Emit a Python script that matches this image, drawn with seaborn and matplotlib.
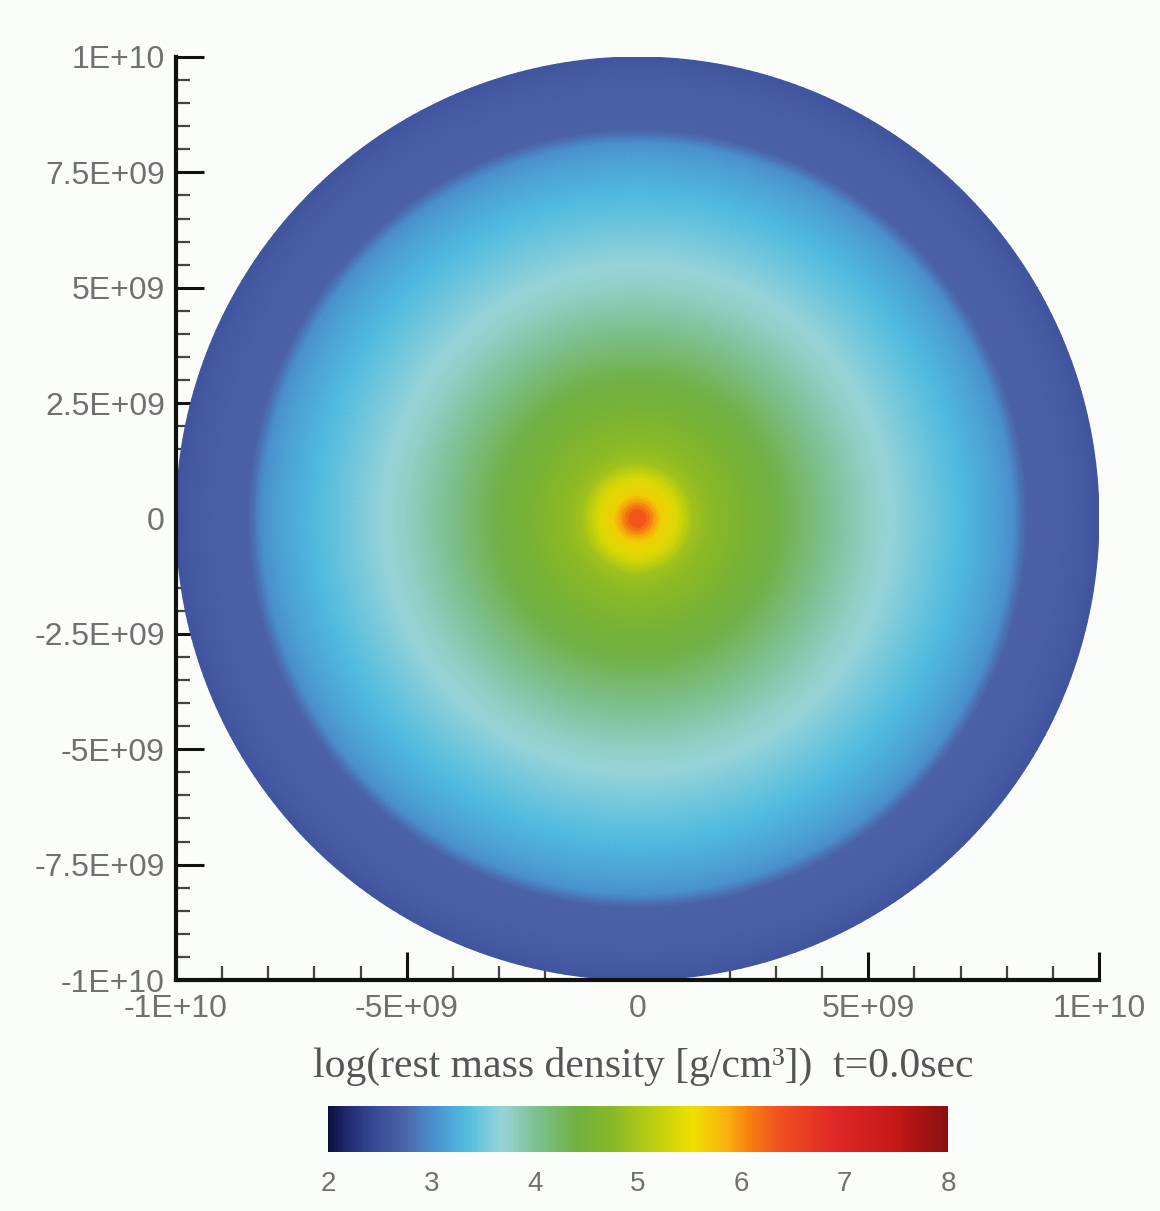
import numpy as np
import matplotlib
matplotlib.use("Agg")
import matplotlib.pyplot as plt
import seaborn as sns
from matplotlib.colors import LinearSegmentedColormap
from matplotlib.ticker import FixedLocator, MultipleLocator

# ---- data ----
# radial profile of log10(rest mass density); radius in units of the axis (cm)
radius = [0.0, 0.02, 0.035, 0.05, 0.08, 0.10, 0.12, 0.15, 0.20, 0.25, 0.30, 0.35,
          0.40, 0.45, 0.50, 0.55, 0.60, 0.65, 0.70, 0.74, 0.78, 0.815, 0.83,
          0.845, 0.92, 0.97, 1.0]
log_rho = [6.45, 6.25, 5.95, 5.65, 5.4, 5.2, 4.95, 4.8, 4.65, 4.5, 4.38, 4.22,
           4.05, 3.9, 3.77, 3.67, 3.57, 3.45, 3.33, 3.24, 3.14, 3.02, 2.85,
           2.72, 2.69, 2.64, 2.58]
r_scale = 1e10

x_ticks = [-1e10, -5e9, 0, 5e9, 1e10]
x_labels = ["-1E+10", "-5E+09", "0", "5E+09", "1E+10"]
y_ticks = [-1e10, -7.5e9, -5e9, -2.5e9, 0, 2.5e9, 5e9, 7.5e9, 1e10]
y_labels = ["-1E+10", "-7.5E+09", "-5E+09", "-2.5E+09", "0",
            "2.5E+09", "5E+09", "7.5E+09", "1E+10"]
cbar_ticks = [2, 3, 4, 5, 6, 7, 8]
title_text = "log(rest mass density [g/cm\u00b3])  t=0.0sec"

# colormap stops
cmap_pos = [2.0, 2.17, 2.47, 2.73, 2.99, 3.33, 3.68, 4.02, 4.4, 4.75, 5.18,
            5.53, 5.87, 6.08, 6.38, 6.9, 7.46, 8.0]
cmap_cols = ["#0a1040", "#202a70", "#3a4c98", "#4c62a8", "#4a8ccc", "#50bce0",
             "#98d4d8", "#7cc090", "#70b040", "#88b828", "#c0d010", "#f0e000",
             "#f8b010", "#f88010", "#f05020", "#e02828", "#c81818", "#8a1010"]

# ---- style ----
sns.set_style("ticks")
plt.rcParams["font.family"] = ["Liberation Sans", "DejaVu Sans"]

vmin, vmax = 2.0, 8.0
cmap = LinearSegmentedColormap.from_list(
    "rho", [((p - vmin) / (vmax - vmin), c) for p, c in zip(cmap_pos, cmap_cols)])

bg = "#fbfdfb"
fig = plt.figure(figsize=(11.6, 12.11), dpi=100, facecolor=bg)
ax = fig.add_axes([175 / 1160, 1 - 980 / 1211, 925 / 1160, 923 / 1211])
ax.set_facecolor(bg)

theta = np.linspace(0, 2 * np.pi, 361)
R, T = np.meshgrid(np.asarray(radius) * r_scale, theta)
X = R * np.cos(T)
Y = R * np.sin(T)
C = np.broadcast_to(np.asarray(log_rho), R.shape)
mesh = ax.pcolormesh(X, Y, C, cmap=cmap, vmin=vmin, vmax=vmax,
                     shading="gouraud", rasterized=True)

ax.set_xlim(-1e10, 1e10)
ax.set_ylim(-1e10, 1e10)
ax.set_aspect("equal")
sns.despine(ax=ax)
for s in ["left", "bottom"]:
    ax.spines[s].set_linewidth(3)
    ax.spines[s].set_color("#111111")

ax.xaxis.set_major_locator(FixedLocator(x_ticks))
ax.set_xticklabels(x_labels)
ax.yaxis.set_major_locator(FixedLocator(y_ticks))
ax.set_yticklabels(y_labels)
ax.xaxis.set_minor_locator(MultipleLocator(1e9))
ax.yaxis.set_minor_locator(MultipleLocator(5e8))
ax.tick_params(which="major", direction="in", length=20, width=2.2,
               color="#111111", labelsize=23, labelcolor="#707070")
ax.tick_params(which="minor", direction="in", length=10, width=1.6,
               color="#444444")
ax.tick_params(axis="x", which="major", pad=10)
ax.tick_params(axis="y", which="major", pad=8)

fig.text(643 / 1160, 1 - 1066 / 1211, title_text, family=["Liberation Serif", "DejaVu Serif"],
         fontsize=30, color="#555555", ha="center", va="center")

cax = fig.add_axes([328 / 1160, 1 - 1152 / 1211, 620 / 1160, 46 / 1211])
cb = fig.colorbar(mesh, cax=cax, orientation="horizontal", ticks=cbar_ticks)
cb.outline.set_visible(False)
cb.ax.tick_params(length=0, labelsize=20, labelcolor="#707070", pad=14)
cb.ax.set_xticklabels([str(t) for t in cbar_ticks])

fig.savefig("out.png", dpi=100, facecolor=bg)
